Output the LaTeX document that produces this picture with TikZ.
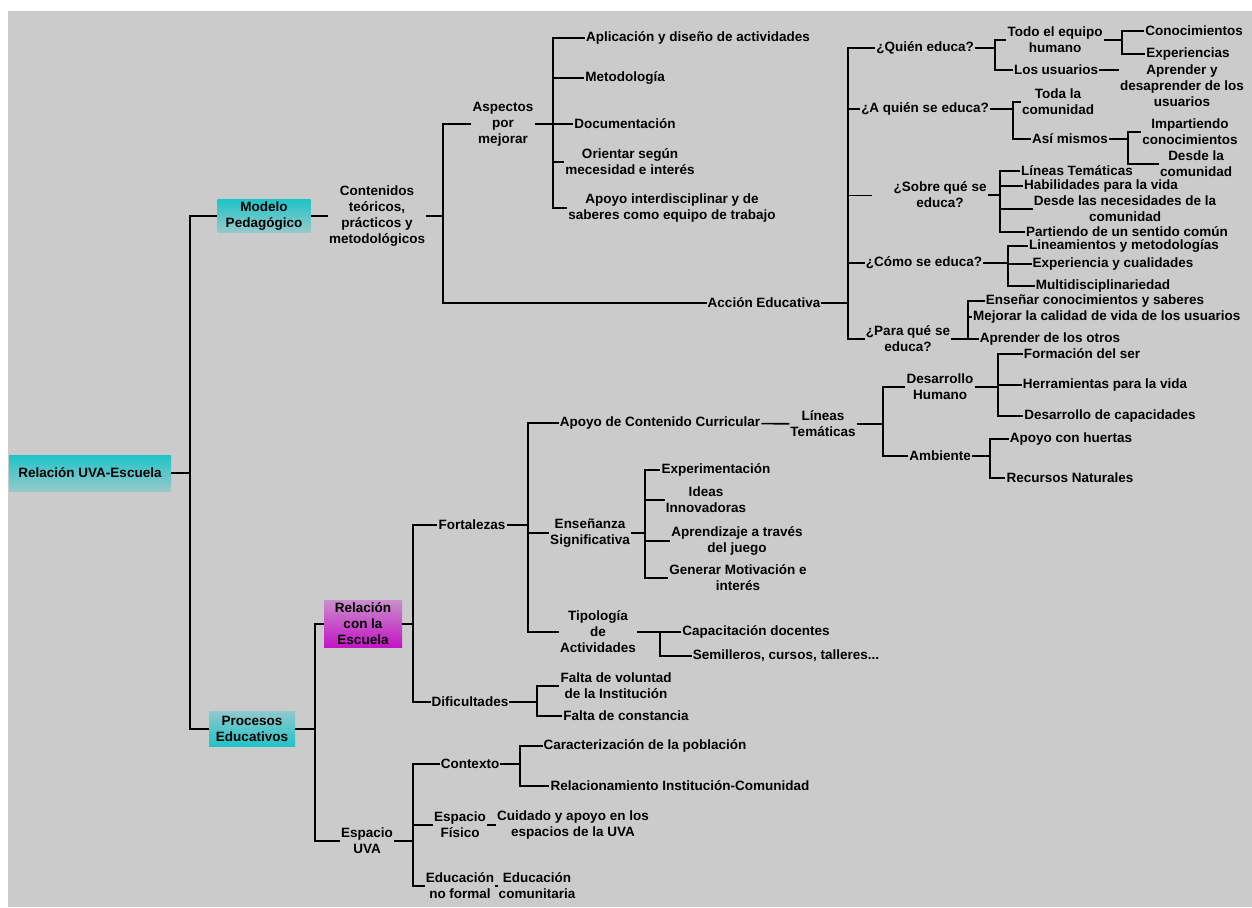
\documentclass[tikz,border=0pt]{standalone}
\usepackage{fontspec}
\setmainfont{Liberation Sans}
\definecolor{uvacyan}{HTML}{1EC4C8}
\definecolor{uvamag}{HTML}{C415C6}
\definecolor{uvabg}{HTML}{CBCBCB}

\begin{document}
\begin{tikzpicture}[
  x=1pt, y=-1pt,
  every node/.style={font=\fontsize{13.5}{16}\selectfont\bfseries, inner sep=1pt},
  topic/.style={align=center},
  cbox/.style={align=center, top color=uvacyan, bottom color=uvacyan!30!uvabg, inner sep=2pt},
  cboxup/.style={align=center, top color=uvacyan!35!uvabg, bottom color=uvacyan, inner sep=2pt},
  mbox/.style={align=center, top color=uvamag!35!uvabg, bottom color=uvamag, inner sep=2pt},
  link/.style={line width=1.6pt, black},
]

% Background
\fill[white] (0,0) rectangle (1252,907);
\fill[uvabg] (8,11) rectangle (1252,907);
\useasboundingbox (0,0) rectangle (1252,907);

% Boxes
\node[cbox, minimum width=162pt, minimum height=36pt] (root) at (90,473) {Relación UVA-Escuela};
\node[cbox, minimum width=93pt, minimum height=32pt] (modelo) at (264,216) {Modelo\\Pedagógico};
\node[cboxup, minimum width=86pt, minimum height=35pt] (procesos) at (252,729) {Procesos\\Educativos};
\node[mbox, minimum width=78pt, minimum height=44pt] (relacion) at (363,624) {Relación\\con la\\Escuela};

% Modelo pedagogico
\node[topic] (contenidos) at (377,216) {Contenidos\\teóricos,\\prácticos y\\metodológicos};
\node[topic] (aspectos) at (503,124) {Aspectos\\por\\mejorar};
\node[topic] (aplic) at (698,38) {Aplicación y diseño de actividades};
\node[topic] (metod) at (625,78) {Metodología};
\node[topic] (docu) at (625,124) {Documentación};
\node[topic] (orient) at (630,162) {Orientar según\\mecesidad e interés};
\node[topic] (apoyoint) at (672,208) {Apoyo interdisciplinar y de\\saberes como equipo de trabajo};
\node[topic] (accion) at (764,303) {Acción Educativa};

% Accion educativa
\node[topic] (quien) at (925,48) {¿Quién educa?};
\node[topic] (todo) at (1055,40) {Todo el equipo\\humano};
\node[topic] (conoc) at (1194,31) {Conocimientos};
\node[topic] (exper) at (1188,54) {Experiencias};
\node[topic] (usuarios) at (1056,70) {Los usuarios};
\node[topic] (aprender) at (1182,86) {Aprender y\\desaprender de los\\usuarios};
\node[topic] (aquien) at (925,109) {¿A quién se educa?};
\node[topic] (toda) at (1058,102) {Toda la\\comunidad};
\node[topic] (asi) at (1070,139) {Así mismos};
\node[topic] (impart) at (1190,132) {Impartiendo\\conocimientos};
\node[topic] (desde) at (1196,164) {Desde la\\comunidad};
\node[topic] (sobre) at (940,195) {¿Sobre qué se\\educa?};
\node[topic] (lineas) at (1077,171) {Líneas Temáticas};
\node[topic] (habil) at (1101,186) {Habilidades para la vida};
\node[topic] (necesid) at (1125,209) {Desde las necesidades de la\\comunidad};
\node[topic] (partiendo) at (1127,232) {Partiendo de un sentido común};
\node[topic] (como) at (924,263) {¿Cómo se educa?};
\node[topic] (lineam) at (1124,246) {Lineamientos y metodologías};
\node[topic] (experc) at (1113,264) {Experiencia y cualidades};
\node[topic] (multi) at (1103,286) {Multidisciplinariedad};
\node[topic] (paraque) at (908,339) {¿Para qué se\\educa?};
\node[topic] (ensenar) at (1095,301) {Enseñar conocimientos y saberes};
\node[topic, anchor=west] (mejorar) at (972,317) {Mejorar la calidad de vida de los usuarios};
\node[topic] (aprotros) at (1050,339) {Aprender de los otros};

% Relacion con la escuela
\node[topic] (fortalezas) at (472,525) {Fortalezas};
\node[topic] (dificult) at (470,702) {Dificultades};
\node[topic] (apoyocur) at (660,423) {Apoyo de Contenido Curricular};
\node[topic] (lineastem) at (823,424) {Líneas\\Temáticas};
\node[topic] (desarrollo) at (940,387) {Desarrollo\\Humano};
\node[topic] (ambiente) at (940,456) {Ambiente};
\node[topic] (formacion) at (1082,354) {Formación del ser};
\node[topic] (herram) at (1105,385) {Herramientas para la vida};
\node[topic] (desacap) at (1110,416) {Desarrollo de capacidades};
\node[topic] (huertas) at (1071,439) {Apoyo con huertas};
\node[topic] (recursos) at (1070,478) {Recursos Naturales};
\node[topic] (ensenanza) at (590,533) {Enseñanza\\Significativa};
\node[topic] (experim) at (716,470) {Experimentación};
\node[topic] (ideas) at (706,500) {Ideas\\Innovadoras};
\node[topic] (aprjuego) at (737,541) {Aprendizaje a través\\del juego};
\node[topic] (generar) at (738,578) {Generar Motivación e\\interés};
\node[topic] (tipologia) at (598,632) {Tipología\\de\\Actividades};
\node[topic] (capacit) at (756,632) {Capacitación docentes};
\node[topic] (semill) at (786,656) {Semilleros, cursos, talleres...};
\node[topic] (falta1) at (616,686) {Falta de voluntad\\de la Institución};
\node[topic] (falta2) at (626,716) {Falta de constancia};

% Espacio UVA
\node[topic] (espuva) at (367,841) {Espacio\\UVA};
\node[topic] (contexto) at (470,764) {Contexto};
\node[topic] (caract) at (645,746) {Caracterización de la población};
\node[topic] (relcom) at (680,786) {Relacionamiento Institución-Comunidad};
\node[topic] (espfis) at (460,825) {Espacio\\Físico};
\node[topic] (cuidado) at (573,825) {Cuidado y apoyo en los\\espacios de la UVA};
\node[topic] (edunf) at (460,886) {Educación\\no formal};
\node[topic] (educom) at (537,886) {Educación\\comunitaria};

% Bar positions
\coordinate (b-root) at (190,0);
\coordinate (b-cont) at (443,0);
\coordinate (b-asp) at (553,0);
\coordinate (b-acc) at (848,0);
\coordinate (b-quien) at (995,0);
\coordinate (b-todo) at (1122,0);
\coordinate (b-aquien) at (1013,0);
\coordinate (b-asi) at (1128,0);
\coordinate (b-sobre) at (1000,0);
\coordinate (b-como) at (1008,0);
\coordinate (b-para) at (968,0);
\coordinate (b-proc) at (315,0);
\coordinate (b-rel) at (413,0);
\coordinate (b-fort) at (528,0);
\coordinate (b-lin) at (883,0);
\coordinate (b-des) at (998,0);
\coordinate (b-amb) at (990,0);
\coordinate (b-ens) at (645,0);
\coordinate (b-tip) at (660,0);
\coordinate (b-dif) at (537,0);
\coordinate (b-esp) at (413,0);
\coordinate (b-ctx) at (520,0);

% Connectors
\draw[link] (root.east) -- (root.east -| b-root);
\draw[link] (root.east -| b-root) |- (modelo.west);
\draw[link] (root.east -| b-root) |- (procesos.west);
\draw[link] (modelo) -- (contenidos);

\draw[link] (contenidos.east) -- (contenidos.east -| b-cont);
\draw[link] (contenidos.east -| b-cont) |- (aspectos.west);
\draw[link] (contenidos.east -| b-cont) |- (accion.west);

\draw[link] (aspectos.east) -- (aspectos.east -| b-asp);
\draw[link] (aspectos.east -| b-asp) |- (aplic.west);
\draw[link] (aspectos.east -| b-asp) |- (metod.west);
\draw[link] (aspectos.east -| b-asp) |- (docu.west);
\draw[link] (aspectos.east -| b-asp) |- (orient.west);
\draw[link] (aspectos.east -| b-asp) |- (apoyoint.west);

\draw[link] (accion.east) -- (accion.east -| b-acc);
\draw[link] (accion.east -| b-acc) |- (quien.west);
\draw[link] (accion.east -| b-acc) |- (aquien.west);
\draw[link, line width=1pt, yshift=1.4pt] (sobre.west -| b-acc) -- ++(24,0);
\draw[link, line width=1pt, yshift=-1.4pt] (sobre.west -| b-acc) -- ++(24,0);
\draw[link] (accion.east -| b-acc) |- (como.west);
\draw[link] (accion.east -| b-acc) |- (paraque.west);

\draw[link] (quien.east) -- (quien.east -| b-quien);
\draw[link] (quien.east -| b-quien) |- (todo.west);
\draw[link] (quien.east -| b-quien) |- (usuarios.west);
\draw[link] (todo.east) -- (todo.east -| b-todo);
\draw[link] (todo.east -| b-todo) |- (conoc.west);
\draw[link] (todo.east -| b-todo) |- (exper.west);
\draw[link] (usuarios) -- (aprender.west |- usuarios);

\draw[link] (aquien.east) -- (aquien.east -| b-aquien);
\draw[link] (aquien.east -| b-aquien) |- (toda.west);
\draw[link] (aquien.east -| b-aquien) |- (asi.west);
\draw[link] (asi.east) -- (asi.east -| b-asi);
\draw[link] (asi.east -| b-asi) |- (impart.west);
\draw[link] (asi.east -| b-asi) |- (desde.west);

\draw[link] (sobre.east) -- (sobre.east -| b-sobre);
\draw[link] (sobre.east -| b-sobre) |- (lineas.west);
\draw[link] (sobre.east -| b-sobre) |- (habil.west);
\draw[link] (sobre.east -| b-sobre) |- (necesid.west);
\draw[link] (sobre.east -| b-sobre) |- (partiendo.west);

\draw[link] (como.east) -- (como.east -| b-como);
\draw[link] (como.east -| b-como) |- (lineam.west);
\draw[link] (como.east -| b-como) |- (experc.west);
\draw[link] (como.east -| b-como) |- (multi.west);

\draw[link] (paraque.east) -- (paraque.east -| b-para);
\draw[link] (paraque.east -| b-para) |- (ensenar.west);
\draw[link] (paraque.east -| b-para) |- (mejorar.west);
\draw[link] (paraque.east -| b-para) |- (aprotros.west);

\draw[link] (procesos.east) -- (procesos.east -| b-proc);
\draw[link] (procesos.east -| b-proc) |- (relacion.west);
\draw[link] (procesos.east -| b-proc) |- (espuva.west);

\draw[link] (relacion.east) -- (relacion.east -| b-rel);
\draw[link] (relacion.east -| b-rel) |- (fortalezas.west);
\draw[link] (relacion.east -| b-rel) |- (dificult.west);

\draw[link] (fortalezas.east) -- (fortalezas.east -| b-fort);
\draw[link] (fortalezas.east -| b-fort) |- (apoyocur.west);
\draw[link] (fortalezas.east -| b-fort) |- (ensenanza.west);
\draw[link] (fortalezas.east -| b-fort) |- (tipologia.west);
\draw[link] (apoyocur) -- (lineastem);

\draw[link] (lineastem.east) -- (lineastem.east -| b-lin);
\draw[link] (lineastem.east -| b-lin) |- (desarrollo.west);
\draw[link] (lineastem.east -| b-lin) |- (ambiente.west);
\draw[link] (desarrollo.east) -- (desarrollo.east -| b-des);
\draw[link] (desarrollo.east -| b-des) |- (formacion.west);
\draw[link] (desarrollo.east -| b-des) |- (herram.west);
\draw[link] (desarrollo.east -| b-des) |- (desacap.west);
\draw[link] (ambiente.east) -- (ambiente.east -| b-amb);
\draw[link] (ambiente.east -| b-amb) |- (huertas.west);
\draw[link] (ambiente.east -| b-amb) |- (recursos.west);

\draw[link] (ensenanza.east) -- (ensenanza.east -| b-ens);
\draw[link] (ensenanza.east -| b-ens) |- (experim.west);
\draw[link] (ensenanza.east -| b-ens) |- (ideas.west);
\draw[link] (ensenanza.east -| b-ens) |- (aprjuego.west);
\draw[link] (ensenanza.east -| b-ens) |- (generar.west);

\draw[link] (tipologia.east) -- (tipologia.east -| b-tip);
\draw[link] (tipologia.east -| b-tip) |- (capacit.west);
\draw[link] (tipologia.east -| b-tip) |- (semill.west);

\draw[link] (dificult.east) -- (dificult.east -| b-dif);
\draw[link] (dificult.east -| b-dif) |- (falta1.west);
\draw[link] (dificult.east -| b-dif) |- (falta2.west);

\draw[link] (espuva.east) -- (espuva.east -| b-esp);
\draw[link] (espuva.east -| b-esp) |- (contexto.west);
\draw[link] (espuva.east -| b-esp) |- (espfis.west);
\draw[link] (espuva.east -| b-esp) |- (edunf.west);
\draw[link] (contexto.east) -- (contexto.east -| b-ctx);
\draw[link] (contexto.east -| b-ctx) |- (caract.west);
\draw[link] (contexto.east -| b-ctx) |- (relcom.west);
\draw[link] (espfis) -- (cuidado);
\draw[link] (edunf) -- (educom);

\end{tikzpicture}
\end{document}
